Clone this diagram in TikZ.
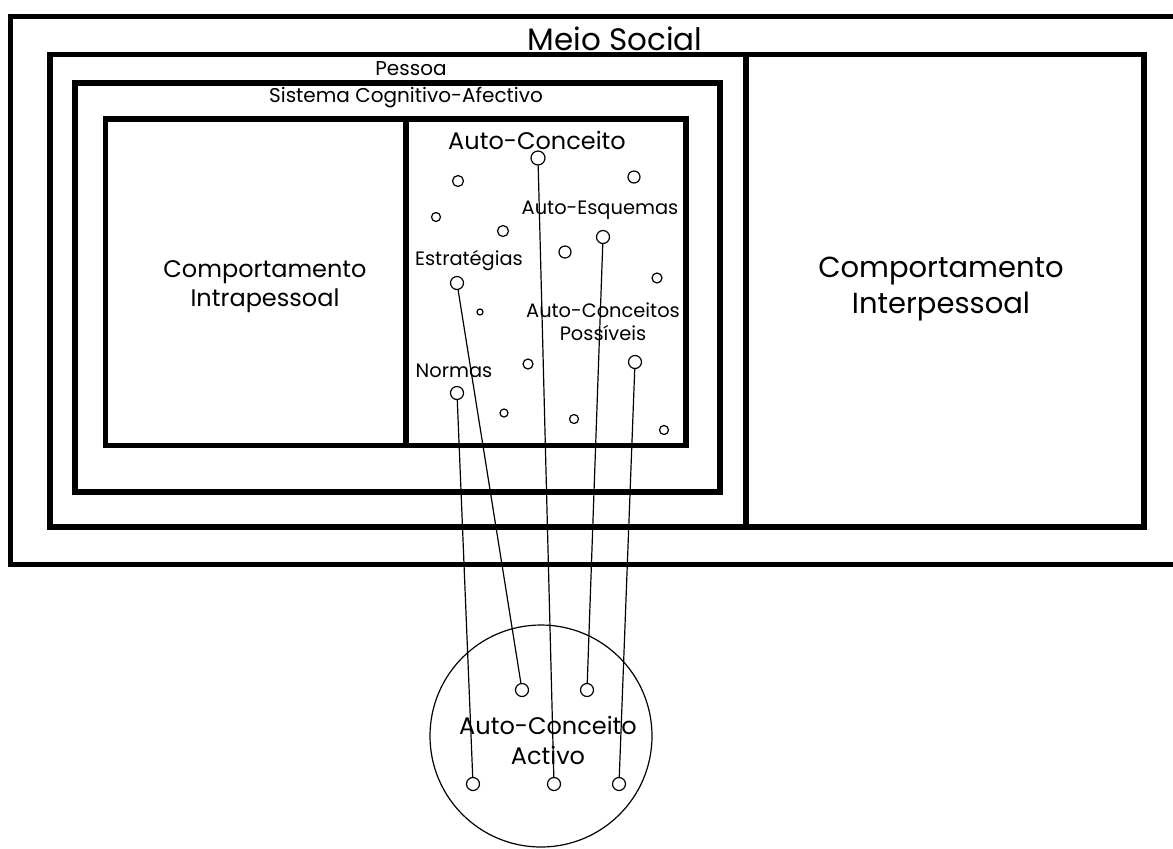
\documentclass[tikz,border=0pt]{standalone}
\usepackage{fontspec}
\setmainfont{Poppins}
\tikzset{
  frame/.style={line width=2.75pt},
  blob/.style={circle,draw,line width=0.6pt,inner sep=0pt,minimum size=#1},
  blob/.default=6.5pt,
  link/.style={line width=0.6pt}
}
\begin{document}
\begin{tikzpicture}[x=0.5pt,y=-0.5pt]
\useasboundingbox (0,0) rectangle (1173,848);

% boxes
\draw[frame] (1190,16.5) -- (10.5,16.5) -- (10.5,564.5) -- (1190,564.5);
\draw[frame] (50,54.5) rectangle (1144,527);
\draw[frame] (746,54.5) -- (746,527);
\draw[frame] (75,83) rectangle (720,492);
\draw[frame] (105.5,119) rectangle (686,445.5);
\draw[frame] (406,119) -- (406,445.5);

% titles
\node[font=\fontsize{15.5}{18}\selectfont] (meio) at (615,39) {Meio Social};
\node[font=\fontsize{10}{12}\selectfont] (pessoa) at (411,69) {Pessoa};
\node[font=\fontsize{10}{12}\selectfont] (sca) at (406,98) {Sistema Cognitivo-Afectivo};
\node[align=center,font=\fontsize{12}{14.5}\selectfont] (intra) at (265,287) {Comportamento\\Intrapessoal};
\node[align=center,font=\fontsize{14.5}{18}\selectfont] (inter) at (941,289) {Comportamento\\Interpessoal};

% auto-conceito
\node[font=\fontsize{12}{14}\selectfont] (lac) at (537,140) {Auto-Conceito};
\node[font=\fontsize{9.7}{12}\selectfont] (lae) at (600,210) {Auto-Esquemas};
\node[font=\fontsize{9.7}{12}\selectfont] (lest) at (469,261) {Estratégias};
\node[align=center,font=\fontsize{9.7}{11.5}\selectfont] (lpos) at (603,322) {Auto-Conceitos\\Possíveis};
\node[font=\fontsize{9.7}{12}\selectfont] (lnor) at (454,371) {Normas};

\node[blob=7pt] (ac) at (538,158) {};
\node[blob] (ae) at (603,237) {};
\node[blob] (est) at (457,283) {};
\node[blob] (pos) at (635,362) {};
\node[blob] (nor) at (457,393) {};
\foreach \px/\py/\d in {458/181/5.5pt, 634/177/6pt, 436/217/4.5pt, 503/231/5.5pt,
  565/252/6pt, 657/278/5pt, 480/312/3pt, 528/364/5pt, 504/413/4pt,
  574/419/4.5pt, 664/430/4.5pt}
  \node[blob=\d] at (\px,\py) {};

% auto-conceito activo
\node[circle,draw,line width=0.6pt,minimum size=111pt] (activo) at (541,736) {};
\node[align=center,font=\fontsize{12}{15}\selectfont] (lact) at (548,740) {Auto-Conceito\\Activo};
\node[blob] (xest) at (522,690) {};
\node[blob] (xae) at (587,690) {};
\node[blob] (xnor) at (473,784) {};
\node[blob] (xac) at (554,784) {};
\node[blob] (xpos) at (619,784) {};

\draw[link] (nor) -- (xnor);
\draw[link] (est) -- (xest);
\draw[link] (ac) -- (xac);
\draw[link] (ae) -- (xae);
\draw[link] (pos) -- (xpos);
\end{tikzpicture}
\end{document}
